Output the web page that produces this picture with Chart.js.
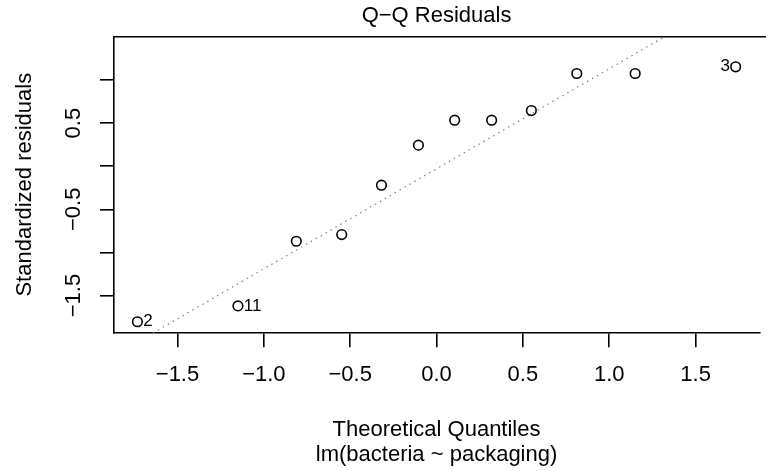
<!DOCTYPE html>
<html><head><meta charset="utf-8">
<script src="https://cdn.jsdelivr.net/npm/chart.js@4"></script>
<style>html,body{margin:0;padding:0;background:#fff}#wrap{width:766px;height:471px}</style>
</head><body><div id="wrap"><canvas id="c" width="766" height="471"></canvas></div>
<script>
// ---- data ----
const theoreticalQuantiles = [-1.732, -1.150, -0.812, -0.549, -0.319, -0.105, 0.105, 0.319, 0.549, 0.812, 1.150, 1.732];
const standardizedResiduals = [-1.804, -1.620, -0.870, -0.793, -0.220, 0.245, 0.534, 0.534, 0.646, 1.076, 1.076, 1.154];
const pointIds = ['2', '11', '', '', '', '', '', '', '', '', '', '3'];
const xTickValues = [-1.5, -1.0, -0.5, 0.0, 0.5, 1.0, 1.5];
const xTickLabels = ['\u22121.5', '\u22121.0', '\u22120.5', '0.0', '0.5', '1.0', '1.5'];
const yTickValues = [-1.5, -1.0, -0.5, 0.0, 0.5, 1.0];
const yTickLabels = ['\u22121.5', '', '\u22120.5', '', '0.5', ''];
const chartTitle = 'Q\u2212Q Residuals';
const xTitle = ['Theoretical Quantiles', 'lm(bacteria ~ packaging)'];
const yTitle = 'Standardized residuals';

// ---- derived (as R does it) ----
function quantile7(arr, p) {
  const s = [...arr].sort((a, b) => a - b);
  const h = (s.length - 1) * p, lo = Math.floor(h);
  return lo + 1 < s.length ? s[lo] + (h - lo) * (s[lo + 1] - s[lo]) : s[lo];
}
const zq = 0.6744897501960817;
const q1 = quantile7(standardizedResiduals, 0.25), q3 = quantile7(standardizedResiduals, 0.75);
const qqSlope = (q3 - q1) / (2 * zq);
const qqIntercept = q1 + qqSlope * zq;

const xr = [Math.min(...theoreticalQuantiles), Math.max(...theoreticalQuantiles)];
const xMin = xr[0] - 0.04 * (xr[1] - xr[0]), xMax = xr[1] + 0.04 * (xr[1] - xr[0]);
const yr = [Math.min(...standardizedResiduals), Math.max(...standardizedResiduals)];
yr[1] = yr[1] + 0.075 * (yr[1] - yr[0]);
const yMin = yr[0] - 0.04 * (yr[1] - yr[0]), yMax = yr[1] + 0.04 * (yr[1] - yr[0]);

const FONT = '"Liberation Sans", Arial, Helvetica, sans-serif';
Chart.defaults.font.family = FONT;
Chart.defaults.color = '#000';

const framePlugin = {
  id: 'frame',
  afterDraw(chart) {
    const {ctx, chartArea: a} = chart;
    ctx.save();
    ctx.strokeStyle = '#000';
    ctx.lineWidth = 1.6;
    ctx.beginPath();
    ctx.moveTo(a.left, a.top);
    ctx.lineTo(chart.width + 2, a.top);
    ctx.stroke();
    ctx.restore();
  }
};
const idPlugin = {
  id: 'pointIds',
  afterDatasetsDraw(chart) {
    const meta = chart.getDatasetMeta(0);
    const {ctx} = chart;
    const mid = (xr[0] + xr[1]) / 2;
    ctx.save();
    ctx.font = '17px ' + FONT;
    ctx.fillStyle = '#000';
    ctx.textBaseline = 'middle';
    meta.data.forEach((el, i) => {
      const lab = pointIds[i];
      if (!lab) return;
      const right = theoreticalQuantiles[i] > mid;
      ctx.textAlign = right ? 'right' : 'left';
      ctx.fillText(lab, el.x + (right ? -5.8 : 5.8), el.y);
    });
    ctx.restore();
  }
};

new Chart(document.getElementById('c'), {
  type: 'scatter',
  data: {
    datasets: [
      {
        data: theoreticalQuantiles.map((x, i) => ({x, y: standardizedResiduals[i]})),
        pointStyle: 'circle', pointRadius: 4.8, pointBorderWidth: 1.6,
        borderColor: '#000', backgroundColor: 'rgba(0,0,0,0)', pointBackgroundColor: 'rgba(0,0,0,0)'
      },
      {
        type: 'line',
        data: [{x: xMin, y: qqIntercept + qqSlope * xMin}, {x: xMax, y: qqIntercept + qqSlope * xMax}],
        borderColor: '#808080', borderWidth: 1.2, borderDash: [1.5, 4.2],
        pointRadius: 0, fill: false, tension: 0
      }
    ]
  },
  options: {
    responsive: false, animation: false, devicePixelRatio: 1, events: [],
    layout: {padding: 0},
    plugins: {
      legend: {display: false}, tooltip: {enabled: false},
      title: {display: true, text: chartTitle, fullSize: false, color: '#000',
        font: {size: 22, weight: 'normal', lineHeight: 1.2}, padding: {top: 2.9, bottom: 7.4}}
    },
    scales: {
      x: {
        type: 'linear', position: 'bottom', min: xMin, max: xMax, bounds: 'data',
        afterBuildTicks: s => { s.ticks = xTickValues.map(v => ({value: v})); },
        afterFit: s => { s.height = 138.3; },
        ticks: {autoSkip: false, minRotation: 0, maxRotation: 0, padding: 14.6, color: '#000',
          font: {size: 22, lineHeight: 1.2},
          callback: v => xTickLabels[xTickValues.indexOf(v)]},
        grid: {drawOnChartArea: false, drawTicks: true, tickLength: 14.6, color: '#000', lineWidth: 1.6},
        border: {display: true, color: '#000', width: 1.6},
        title: {display: true, text: xTitle, color: '#000', font: {size: 22, lineHeight: 1.18}, padding: {top: 0, bottom: 2.6}}
      },
      y: {
        type: 'linear', position: 'left', min: yMin, max: yMax, bounds: 'data',
        afterBuildTicks: s => { s.ticks = yTickValues.map(v => ({value: v})); },
        afterFit: s => { s.width = 113.5; },
        ticks: {autoSkip: false, minRotation: 90, maxRotation: 90, crossAlign: 'center', padding: 4.5, color: '#000',
          font: {size: 22, lineHeight: 1.2},
          callback: v => yTickLabels[yTickValues.indexOf(v)]},
        grid: {drawOnChartArea: false, drawTicks: true, tickLength: 13.5, color: '#000', lineWidth: 1.6},
        border: {display: true, color: '#000', width: 1.6},
        title: {display: true, text: yTitle, color: '#000', font: {size: 22, lineHeight: 1.2}, padding: {top: 11.8, bottom: 0}}
      }
    }
  },
  plugins: [framePlugin, idPlugin]
});
</script></body></html>
